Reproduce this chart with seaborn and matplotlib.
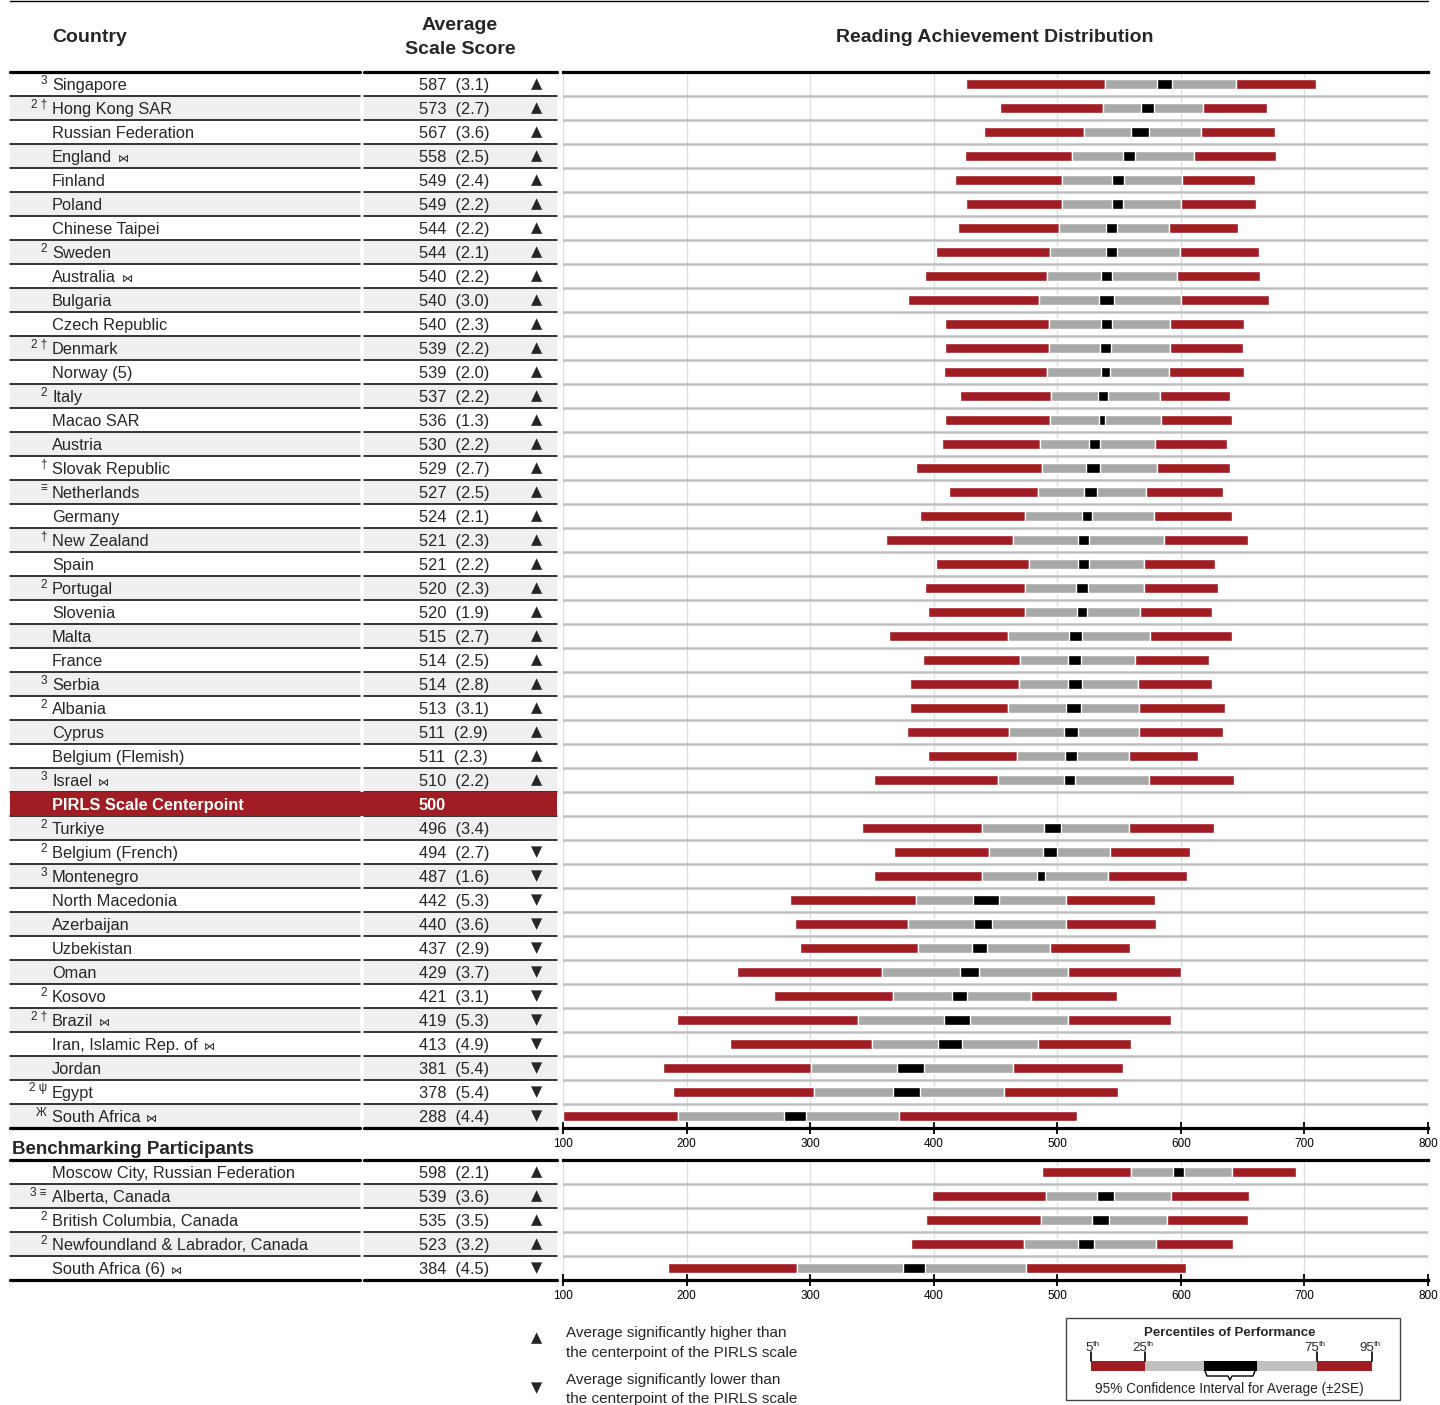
import numpy as np
import pandas as pd
import seaborn as sns
import matplotlib.pyplot as plt
from matplotlib.patches import Rectangle

sns.set_style('white')
plt.rcParams['font.family'] = ['Liberation Sans', 'DejaVu Sans']

# ---- data: main participants ----
countries = ['Singapore', 'Hong Kong SAR', 'Russian Federation', 'England ⋈', 'Finland',
             'Poland', 'Chinese Taipei', 'Sweden', 'Australia ⋈', 'Bulgaria',
             'Czech Republic', 'Denmark', 'Norway (5)', 'Italy', 'Macao SAR',
             'Austria', 'Slovak Republic', 'Netherlands', 'Germany', 'New Zealand',
             'Spain', 'Portugal', 'Slovenia', 'Malta', 'France',
             'Serbia', 'Albania', 'Cyprus', 'Belgium (Flemish)', 'Israel ⋈',
             'Turkiye', 'Belgium (French)', 'Montenegro', 'North Macedonia', 'Azerbaijan',
             'Uzbekistan', 'Oman', 'Kosovo', 'Brazil ⋈', 'Iran, Islamic Rep. of ⋈',
             'Jordan', 'Egypt', 'South Africa ⋈']
notes = ['3', '2 †', '', '', '', '', '', '2', '', '',
         '', '2 †', '', '2', '', '', '†', '≡', '', '†',
         '', '2', '', '', '', '3', '2', '', '', '3',
         '2', '2', '3', '', '', '', '', '2', '2 †', '',
         '', '2 ψ', 'Ж']
means = [587, 573, 567, 558, 549, 549, 544, 544, 540, 540,
         540, 539, 539, 537, 536, 530, 529, 527, 524, 521,
         521, 520, 520, 515, 514, 514, 513, 511, 511, 510,
         496, 494, 487, 442, 440, 437, 429, 421, 419, 413,
         381, 378, 288]
ses = [3.1, 2.7, 3.6, 2.5, 2.4, 2.2, 2.2, 2.1, 2.2, 3.0,
       2.3, 2.2, 2.0, 2.2, 1.3, 2.2, 2.7, 2.5, 2.1, 2.3,
       2.2, 2.3, 1.9, 2.7, 2.5, 2.8, 3.1, 2.9, 2.3, 2.2,
       3.4, 2.7, 1.6, 5.3, 3.6, 2.9, 3.7, 3.1, 5.3, 4.9,
       5.4, 5.4, 4.4]
signs = ['▲'] * 30 + [''] + ['▼'] * 12
p5 = [426, 454, 441, 425, 417, 426, 420, 402, 393, 379,
      409, 409, 408, 421, 409, 407, 386, 412, 389, 361,
      402, 393, 395, 364, 391, 381, 381, 378, 395, 352,
      342, 368, 352, 284, 288, 292, 241, 271, 192, 235,
      181, 189, 100]
p25 = [539, 537, 522, 512, 504, 504, 501, 494, 492, 485,
       493, 493, 492, 495, 494, 486, 488, 484, 474, 464,
       477, 474, 474, 460, 470, 469, 460, 461, 467, 452,
       439, 445, 439, 386, 379, 387, 358, 367, 339, 350,
       301, 303, 193]
p75 = [645, 618, 616, 611, 601, 600, 590, 599, 597, 600,
       591, 591, 590, 583, 584, 579, 581, 572, 578, 586,
       570, 570, 567, 575, 563, 565, 566, 566, 558, 574,
       558, 543, 541, 507, 507, 494, 509, 479, 509, 484,
       464, 457, 372]
p95 = [709, 670, 676, 677, 660, 661, 646, 663, 664, 671,
       651, 650, 651, 640, 641, 637, 640, 634, 641, 654,
       628, 630, 625, 641, 623, 625, 636, 634, 614, 643,
       627, 607, 605, 579, 580, 559, 600, 548, 592, 560,
       553, 549, 516]

# ---- data: benchmarking participants ----
bench_countries = ['Moscow City, Russian Federation', 'Alberta, Canada', 'British Columbia, Canada',
                   'Newfoundland & Labrador, Canada', 'South Africa (6) ⋈']
bench_notes = ['', '3 ≡', '2', '2', '']
bench_means = [598, 539, 535, 523, 384]
bench_ses = [2.1, 3.6, 3.5, 3.2, 4.5]
bench_signs = ['▲', '▲', '▲', '▲', '▼']
bench_p5 = [488, 399, 394, 382, 185]
bench_p25 = [560, 491, 487, 473, 289]
bench_p75 = [641, 592, 589, 580, 475]
bench_p95 = [693, 655, 654, 642, 604]

centerpoint = 500
center_row = 30

RED = '#a11d24'
BAR_GRAY = '#a8a8a8'
SHADE = '#efefef'
ROW = 24
W, H = 1440, 1405
COLS = [(10, 360), (364, 557)]
BOWTIE = ' ⋈'

main = pd.DataFrame({'country': countries, 'note': notes, 'mean': means, 'se': ses,
                     'sign': signs, 'p5': p5, 'p25': p25, 'p75': p75, 'p95': p95})
main['pos'] = [i if i < center_row else i + 1 for i in range(len(main))]
bench = pd.DataFrame({'country': bench_countries, 'note': bench_notes, 'mean': bench_means,
                      'se': bench_ses, 'sign': bench_signs, 'p5': bench_p5, 'p25': bench_p25,
                      'p75': bench_p75, 'p95': bench_p95})
bench['pos'] = range(len(bench))

fig = plt.figure(figsize=(W / 100, H / 100), dpi=100)
bg = fig.add_axes([0, 0, 1, 1])
bg.set_xlim(0, W)
bg.set_ylim(H, 0)
bg.axis('off')


def px_axes(x0, y0, x1, y1):
    return fig.add_axes([x0 / W, 1 - y1 / H, (x1 - x0) / W, (y1 - y0) / H])


def sign_text(x, y, s):
    bg.text(x, y, s, fontsize=10.5, ha='center', va='center', family='DejaVu Sans')


def draw_table(df, top, n_rows):
    bottom = top + ROW * n_rows
    for k in range(n_rows):
        if k % 2 == 1:
            for x0, x1 in COLS:
                bg.add_patch(Rectangle((x0, top + ROW * k), x1 - x0, ROW, color=SHADE, lw=0, zorder=0))
    for k in range(1, n_rows):
        for x0, x1 in COLS:
            bg.plot([x0, x1], [top + ROW * k] * 2, color='black', lw=1.1, zorder=2)
    for y in (top, bottom):
        for x0, x1 in COLS:
            bg.plot([x0, x1], [y, y], color='black', lw=2.3, zorder=3)
    for r in df.itertuples():
        yc = top + ROW * (r.pos + 0.5)
        if r.note:
            bg.text(47, yc - 3.5, r.note, fontsize=8.5, ha='right', va='center')
        name = r.country
        mark = name.endswith(BOWTIE)
        if mark:
            name = name[:-len(BOWTIE)]
        t = bg.text(52, yc + 1.5, name, fontsize=11.8, ha='left', va='center')
        if mark:
            bg.annotate(BOWTIE.strip(), xy=(1, 0.45), xycoords=t, xytext=(4, 0),
                        textcoords='offset points', fontsize=8, ha='left', va='center',
                        family='DejaVu Sans')
        bg.text(419, yc + 1.5, f'{r.mean}  ({r.se:.1f})', fontsize=11.8, ha='left', va='center')
        if r.sign:
            sign_text(537, yc, r.sign)


def draw_dist(ax, df, n_rows):
    ax.set_facecolor('none')
    ax.set_xlim(100, 800)
    ax.set_ylim(n_rows - 0.5, -0.5)
    for v in range(100, 801, 100):
        ax.axvline(v, color='#dddddd', lw=0.9, zorder=0)
    for k in range(n_rows - 1):
        ax.axhline(k + 0.5, color='#c0c0c0', lw=1.8, zorder=1)
    ax.barh(df['pos'], df['p25'] - df['p5'], left=df['p5'], height=0.42, color=RED, zorder=2)
    ax.barh(df['pos'], df['p75'] - df['p25'], left=df['p25'], height=0.42, color=BAR_GRAY, zorder=2)
    ax.barh(df['pos'], df['p95'] - df['p75'], left=df['p75'], height=0.42, color=RED, zorder=2)
    ax.barh(df['pos'], 4 * df['se'], left=df['mean'] - 2 * df['se'], height=0.44,
            color='black', zorder=3)
    ax.set_yticks([])
    for side in ('left', 'right'):
        ax.spines[side].set_visible(False)
    for side in ('top', 'bottom'):
        ax.spines[side].set_color('black')
        ax.spines[side].set_linewidth(2.3)
    ax.set_xticks(range(100, 801, 100))
    ax.tick_params(axis='x', bottom=True, direction='inout', length=9, width=1.3,
                   color='black', labelsize=8.5, pad=3, labelcolor='black')


# headers
bg.plot([10, 1428], [1, 1], color='black', lw=1)
bg.text(52, 38, 'Country', fontsize=14, fontweight='bold', ha='left', va='center')
bg.text(460, 25, 'Average', fontsize=14, fontweight='bold', ha='center', va='center')
bg.text(460, 50, 'Scale Score', fontsize=14, fontweight='bold', ha='center', va='center')
bg.text(995, 38, 'Reading Achievement Distribution', fontsize=14, fontweight='bold',
        ha='center', va='center')

# main table
n_main = len(main) + 1
top_main = 72
draw_table(main, top_main, n_main)
cy = top_main + ROW * center_row
bg.add_patch(Rectangle((10, cy), 547, ROW, color=RED, lw=0, zorder=4))
bg.text(52, cy + 13.5, 'PIRLS Scale Centerpoint', fontsize=11.8, fontweight='bold',
        color='white', ha='left', va='center', zorder=5)
bg.text(419, cy + 13.5, str(centerpoint), fontsize=11.8, fontweight='bold',
        color='white', ha='left', va='center', zorder=5)

ax1 = px_axes(563, top_main, 1428, top_main + ROW * n_main)
draw_dist(ax1, main, n_main)

# benchmarking
bg.text(12, 1149, 'Benchmarking Participants', fontsize=13.5, fontweight='bold',
        ha='left', va='center')
top_bench = 1160
draw_table(bench, top_bench, len(bench))
ax2 = px_axes(563, top_bench, 1428, top_bench + ROW * len(bench))
draw_dist(ax2, bench, len(bench))

# significance legend
sign_text(537, 1338, '▲')
bg.text(566, 1333, 'Average significantly higher than', fontsize=11, ha='left', va='center')
bg.text(566, 1353, 'the centerpoint of the PIRLS scale', fontsize=11, ha='left', va='center')
sign_text(537, 1388, '▼')
bg.text(566, 1380, 'Average significantly lower than', fontsize=11, ha='left', va='center')
bg.text(566, 1399, 'the centerpoint of the PIRLS scale', fontsize=11, ha='left', va='center')

# percentile legend box
bg.add_patch(Rectangle((1066, 1318), 334, 82, fill=False, edgecolor='#444444', lw=1))
bg.text(1230, 1333, 'Percentiles of Performance', fontsize=9.5, fontweight='bold',
        ha='center', va='center')
seg = [(1091, 1145, RED), (1145, 1204, '#c0c0c0'), (1204, 1257, 'black'),
       (1257, 1317, '#c0c0c0'), (1317, 1372, RED)]
for x0, x1, c in seg:
    bg.add_patch(Rectangle((x0, 1361), x1 - x0, 10, color=c, lw=0))
for x, lab in [(1091, '5'), (1145, '25'), (1317, '75'), (1372, '95')]:
    bg.plot([x, x], [1352, 1361], color='black', lw=1.2)
    bg.text(x + 2, 1348, lab, fontsize=9.5, ha='right', va='center')
    bg.text(x + 2, 1345, 'th', fontsize=6, ha='left', va='center')
bg.plot([1205, 1207, 1228, 1230, 1232, 1253, 1255],
        [1371, 1376, 1376, 1380, 1376, 1376, 1371], color='black', lw=1)
bg.text(1229, 1389, '95% Confidence Interval for Average (±2SE)', fontsize=9.8,
        ha='center', va='center')

fig.savefig('out.png', dpi=100)
